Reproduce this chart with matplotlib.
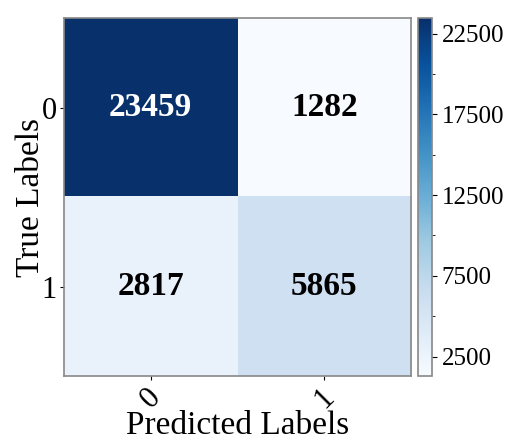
import numpy as np
import matplotlib
matplotlib.use("Agg")
import matplotlib.pyplot as plt

plt.rcParams['font.family'] = ['Liberation Serif', 'DejaVu Serif']

labels = ['0', '1']
cm = np.array([[23459, 1282],
               [2817, 5865]])

fig = plt.figure(figsize=(5.15, 4.4), dpi=100)
ax = fig.add_axes([0.124, 0.145, 0.674, 0.814])
cax = fig.add_axes([0.812, 0.145, 0.027, 0.814])

im = ax.imshow(cm, cmap='Blues', aspect='auto')
for i in range(cm.shape[0]):
    for j in range(cm.shape[1]):
        color = 'white' if cm[i, j] > cm.max() / 2 else 'black'
        ax.text(j, i, str(cm[i, j]), ha='center', va='center',
                fontsize=24, fontweight='bold', color=color)

ax.set_xticks(range(len(labels)))
ax.set_yticks(range(len(labels)))
ax.set_xticklabels(labels, rotation=45, fontsize=22)
ax.set_yticklabels(labels, fontsize=22)
ax.tick_params(length=3, pad=2)
ax.set_xlabel('Predicted Labels', fontsize=24, labelpad=-3)
ax.set_ylabel('True Labels', fontsize=24, labelpad=-3)
for s in ax.spines.values():
    s.set_color('#888888')
    s.set_linewidth(1.2)

cb = fig.colorbar(im, cax=cax)
cb.set_ticks([2500, 7500, 12500, 17500, 22500])
cb.ax.set_yticks([5000, 10000, 15000, 20000], minor=True)
cb.ax.tick_params(labelsize=18)
cb.outline.set_edgecolor('#888888')
cb.outline.set_linewidth(1.2)

fig.savefig('out.png', dpi=100)
